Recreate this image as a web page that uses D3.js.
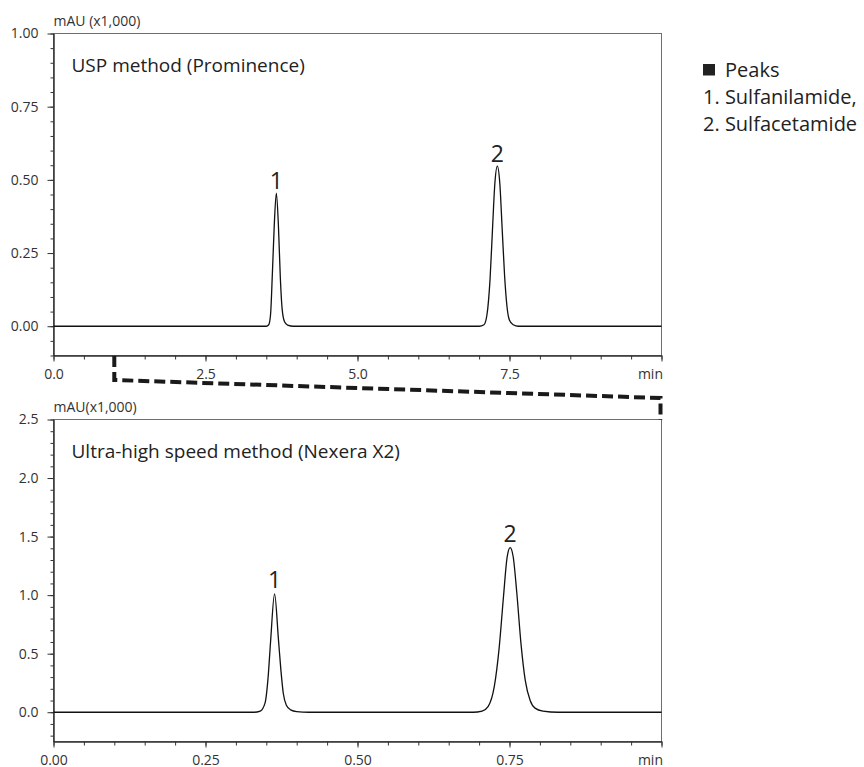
<!DOCTYPE html>
<html>
<head>
<meta charset="utf-8">
<title>USP vs Ultra-high speed method</title>
<style>
  body { margin: 0; background: #fff; }
  svg { display: block; font-family: "Open Sans", "Noto Sans", sans-serif; }
</style>
</head>
<body>
<svg width="864" height="767"></svg>
<script src="https://d3js.org/d3.v7.min.js"></script>
<script>
// --- data ---
var uspTicksY = [0.00, 0.25, 0.50, 0.75, 1.00];
var uspMinorY = d3.range(-0.10, 1.001, 0.05);
var uspTicksX = [0, 2.5, 5, 7.5, 10];
var uspLabelsX = ["0.0", "2.5", "5.0", "7.5", "min"];
var uspMinorX = d3.range(0, 10.01, 0.5);

var uhsTicksY = [0.0, 0.5, 1.0, 1.5, 2.0, 2.5];
var uhsMinorY = d3.range(-0.2, 2.501, 0.1);
var uhsTicksX = [0, 0.25, 0.5, 0.75, 1.0];
var uhsLabelsX = ["0.00", "0.25", "0.50", "0.75", "min"];
var uhsMinorX = d3.range(0, 1.001, 0.05);

// chromatogram traces [time (min), mAU x1000]
var uspTrace = [
  [0, 0], [3.50, 0], [3.54, 0.005], [3.57, 0.04], [3.60, 0.18], [3.63, 0.34],
  [3.665, 0.455], [3.70, 0.34], [3.73, 0.17], [3.76, 0.06], [3.80, 0.015],
  [3.85, 0.004], [3.95, 0], [7.00, 0], [7.08, 0.005], [7.13, 0.04], [7.18, 0.16],
  [7.22, 0.33], [7.26, 0.49], [7.30, 0.547], [7.34, 0.49], [7.38, 0.33],
  [7.42, 0.17], [7.46, 0.065], [7.50, 0.02], [7.56, 0.005], [7.65, 0], [10, 0]
];
var uhsTrace = [
  [0, 0], [0.330, 0], [0.340, 0.01], [0.348, 0.08], [0.353, 0.30], [0.357, 0.60],
  [0.3636, 1.01], [0.370, 0.62], [0.374, 0.36], [0.378, 0.16], [0.383, 0.06],
  [0.390, 0.02], [0.400, 0.005], [0.420, 0], [0.690, 0], [0.705, 0.01],
  [0.715, 0.05], [0.725, 0.22], [0.733, 0.55], [0.740, 0.98], [0.746, 1.32],
  [0.751, 1.405], [0.756, 1.33], [0.762, 1.02], [0.769, 0.58], [0.776, 0.27],
  [0.784, 0.10], [0.792, 0.035], [0.805, 0.01], [0.830, 0], [1.0, 0]
];

var uspPeaks = [{label: "1", t: 3.665, v: 0.455}, {label: "2", t: 7.30, v: 0.547}];
var uhsPeaks = [{label: "1", t: 0.3636, v: 1.01}, {label: "2", t: 0.751, v: 1.405}];

var legendLines = ["Peaks", "1. Sulfanilamide,", "2. Sulfacetamide"];

// --- layout ---
var svg = d3.select("svg");
var left = 53.5, right = 661.5;

function panel(opts) {
  var x = d3.scaleLinear().domain(opts.xDomain).range([left, right]);
  var y = d3.scaleLinear().domain(opts.yDomain).range([opts.bottom, opts.top]);
  var g = svg.append("g");

  // frame (top + right are lighter)
  g.append("rect")
      .attr("x", left).attr("y", opts.top)
      .attr("width", right - left).attr("height", opts.bottom - opts.top)
      .attr("fill", "none")
      .attr("stroke", "#6e6e6e")
      .attr("stroke-width", 1);

  // minor ticks
  var minorY = g.append("g")
      .attr("transform", "translate(" + left + ",0)")
      .call(d3.axisLeft(y).tickValues(opts.minorY).tickSize(3).tickSizeOuter(0).tickFormat(""));
  var minorX = g.append("g")
      .attr("transform", "translate(0," + opts.bottom + ")")
      .call(d3.axisBottom(x).tickValues(opts.minorX).tickSize(4).tickSizeOuter(0).tickFormat(""));

  // major ticks
  var ay = g.append("g")
      .attr("transform", "translate(" + left + ",0)")
      .call(d3.axisLeft(y).tickValues(opts.ticksY).tickSize(6).tickSizeOuter(0)
        .tickFormat(d3.format(opts.yFormat)));
  var ax = g.append("g")
      .attr("transform", "translate(0," + opts.bottom + ")")
      .call(d3.axisBottom(x).tickValues(opts.ticksX).tickSize(6).tickSizeOuter(0)
        .tickFormat(function(d, i) { return opts.labelsX[i]; }));

  [minorY, minorX, ay, ax].forEach(function(a) {
    a.attr("font-family", null).attr("font-size", null);
    a.selectAll("line").attr("stroke", "#333");
    a.select(".domain").attr("stroke", "#333");
  });
  ay.selectAll("text").style("font-size", "14px").attr("fill", "#333").attr("x", -15);
  ax.selectAll("text").style("font-size", "14px").attr("fill", "#333").attr("dy", "1.0em");
  ax.selectAll(".tick").filter(function(d, i) { return opts.labelsX[i] === "min"; })
    .select("text").attr("text-anchor", "end").attr("x", 1);

  // unit label
  g.append("text")
      .attr("x", left).attr("y", opts.top - 8)
      .style("font-size", "14px").attr("fill", "#333")
      .text(opts.unit);

  // title
  g.append("text")
      .attr("x", left + 18).attr("y", opts.top + 38)
      .style("font-size", "19px").attr("fill", "#222")
      .text(opts.title);

  // trace
  var line = d3.line()
      .x(function(d) { return x(d[0]); })
      .y(function(d) { return y(d[1]); })
      .curve(d3.curveMonotoneX);
  g.append("path")
      .datum(opts.trace)
      .attr("fill", "none")
      .attr("stroke", "#111")
      .attr("stroke-width", 1.3)
      .attr("d", line);

  // peak numbers
  g.selectAll(".peak")
    .data(opts.peaks)
    .enter().append("text")
      .attr("class", "peak")
      .attr("x", function(d) { return x(d.t); })
      .attr("y", function(d) { return y(d.v) - opts.peakGap; })
      .attr("text-anchor", "middle")
      .style("font-size", "23px").attr("fill", "#222")
      .text(function(d) { return d.label; });

  return {x: x, y: y};
}

var usp = panel({
  top: 33.5, bottom: 355.5,
  xDomain: [0, 10], yDomain: [-0.1, 1.0],
  ticksY: uspTicksY, minorY: uspMinorY, yFormat: ".2f",
  ticksX: uspTicksX, labelsX: uspLabelsX, minorX: uspMinorX,
  unit: "mAU (x1,000)", title: "USP method (Prominence)",
  trace: uspTrace, peaks: uspPeaks, peakGap: 4
});

var uhs = panel({
  top: 419.5, bottom: 741.5,
  xDomain: [0, 1], yDomain: [-0.25, 2.5],
  ticksY: uhsTicksY, minorY: uhsMinorY, yFormat: ".1f",
  ticksX: uhsTicksX, labelsX: uhsLabelsX, minorX: uhsMinorX,
  unit: "mAU(x1,000)", title: "Ultra-high speed method (Nexera X2)",
  trace: uhsTrace, peaks: uhsPeaks, peakGap: 6
});

// dashed zoom connector: top panel 0-1 min spread over the bottom panel
var cx0 = usp.x(1), cx1 = usp.x(10);
svg.append("path")
    .attr("d", "M" + cx0 + ",356V380L" + (cx1 - 1) + ",398V420")
    .attr("fill", "none")
    .attr("stroke", "#1a1a1a")
    .attr("stroke-width", 4)
    .attr("stroke-dasharray", "11,5");

// legend
var lg = svg.append("g").attr("transform", "translate(703,0)");
lg.append("rect")
    .attr("x", 0).attr("y", 64).attr("width", 12).attr("height", 11.5)
    .attr("fill", "#222");
lg.selectAll(".leg")
  .data(legendLines)
  .enter().append("text")
    .attr("class", "leg")
    .attr("x", function(d, i) { return i === 0 ? 22 : 0; })
    .attr("y", function(d, i) { return 77 + i * 27; })
    .style("font-size", "20px").attr("fill", "#222")
    .text(function(d) { return d; });
</script>
</body>
</html>
